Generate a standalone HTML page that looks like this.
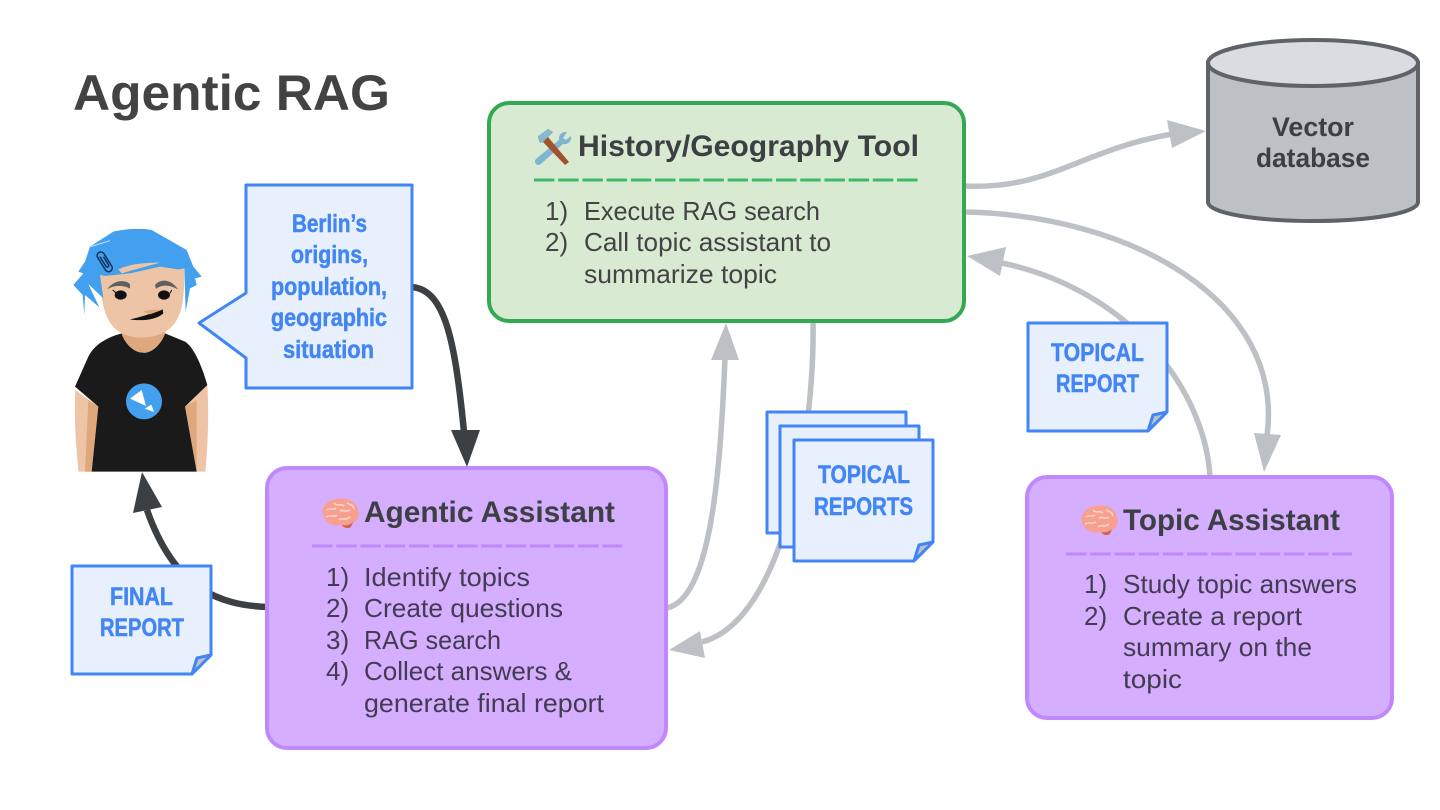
<!DOCTYPE html>
<html><head><meta charset="utf-8"><title>Agentic RAG</title>
<style>
html,body{margin:0;padding:0;background:#fff;width:1440px;height:810px;overflow:hidden}
svg{display:block}
text{font-family:"Liberation Sans",sans-serif}
.t{font-weight:700;font-size:30px;fill:#3c4043}
.b{font-size:26px;fill:#434343}
.p{font-size:26px;fill:#433c50}
.n{font-weight:700;font-size:25px;fill:#4285f4;stroke:#4285f4;stroke-width:.5px;transform:translateY(-1px)}
.g{fill:none;stroke:#bdc1c6;stroke-width:5.5}
.d{fill:none;stroke:#3c4043;stroke-width:6.5}
.note{fill:#e8f0fe;stroke:#4285f4;stroke-width:3;stroke-linejoin:round}
</style></head><body>
<svg width="1440" height="810" viewBox="0 0 1440 810" xmlns="http://www.w3.org/2000/svg">
<defs>
<g id="brain">
<path d="M3 17C0 9 8 2 17 1C27-1 36 3 38 12C40 19 37 24 32 25L30 29C27 31 23 30 21 27C13 29 5 25 3 17Z" fill="#f7a08f"/>
<path d="M7 12C10 9 13 13 16 10M14 5C17 9 21 5 24 8M6 19C10 16 13 20 17 17M20 13C24 11 26 15 30 12M19 22C22 19 26 23 30 19M27 5C30 7 33 6 34 11" fill="none" stroke="#fbd5c8" stroke-width="1.6"/>
<path d="M22 27C26 28 30 27 33 24L31 29C28 31 24 30 22 27Z" fill="#d4604f"/>
</g>
<g id="fold">
<path d="M-19 19L-14 3L0 0Z" fill="#bdc1c6" stroke="#4285f4" stroke-width="3" stroke-linejoin="round"/>
</g>
</defs>

<text x="73" y="110" font-size="50" font-weight="700" fill="#434343" textLength="317" lengthAdjust="spacingAndGlyphs">Agentic RAG</text>

<!-- connectors under shapes -->
<path class="g" d="M964 186C1050 190 1080 150 1172 134"/>
<path d="M1206 131L1167 120L1172 148Z" fill="#bdc1c6"/>
<path class="g" d="M964 212C1130 215 1285 300 1267 436"/>
<path d="M1264 472L1254 433L1281 435Z" fill="#bdc1c6"/>
<path class="g" d="M1210 477C1205 390 1130 290 1002 263"/>
<path d="M967 256L1006 247L1000 276Z" fill="#bdc1c6"/>
<path class="g" d="M667 608C710 598 720 480 725 358"/>
<path d="M726 323L711 360L739 360Z" fill="#bdc1c6"/>
<path class="g" d="M813 321C815 430 785 620 702 642"/>
<path d="M669 650L700 631L705 658Z" fill="#bdc1c6"/>
<path class="d" d="M412 287C445 290 455 340 464 432"/>
<path d="M467 467L451 430L480 430Z" fill="#3c4043"/>
<path class="d" d="M267 607C220 605 175 590 147 510"/>
<path d="M142 472L133 513L162 507Z" fill="#3c4043"/>

<!-- Green tool -->
<rect x="489" y="103" width="475" height="218" rx="20" fill="#d9ead3" stroke="#34a853" stroke-width="4"/>
<g transform="translate(534 129)">
<path d="M33 3C28 2 24 6 25 11L2 30C-1 33 3 38 7 35L29 15C34 16 38 12 37 7L32 11L29 9Z" fill="#7fb5cf"/>
<path d="M4 8L14 0L19 3L14 8L35 33L31 36L9 13L6 14Z" fill="#a0532f"/>
<path d="M4 7L14 0L19 3L13 9L9 13L6 14Z" fill="#86b8cf"/>
</g>
<text class="t" x="578" y="156" textLength="341" lengthAdjust="spacingAndGlyphs">History/Geography Tool</text>
<path d="M534 180H918" stroke="#3dba66" stroke-width="3" stroke-dasharray="20.5 3.7" fill="none"/>
<text class="b" x="545" y="220">1)</text>
<text class="b" x="545" y="251">2)</text>
<text class="b" x="584" y="220" textLength="236" lengthAdjust="spacingAndGlyphs">Execute RAG search</text>
<text class="b" x="584" y="251" textLength="247" lengthAdjust="spacingAndGlyphs">Call topic assistant to</text>
<text class="b" x="584" y="283" textLength="193" lengthAdjust="spacingAndGlyphs">summarize topic</text>

<!-- Agentic Assistant -->
<rect x="267" y="468" width="399" height="280" rx="20" fill="#d5aeff" stroke="#bf88fb" stroke-width="4"/>
<use href="#brain" x="320" y="498"/>
<text class="t" x="364" y="522" textLength="251" lengthAdjust="spacingAndGlyphs">Agentic Assistant</text>
<path d="M312 546H622" stroke="#bf88fb" stroke-width="3" stroke-dasharray="20.5 3.7" fill="none"/>
<text class="p" x="326" y="586">1)</text>
<text class="p" x="326" y="617">2)</text>
<text class="p" x="326" y="649">3)</text>
<text class="p" x="326" y="680">4)</text>
<text class="p" x="364" y="586" textLength="166" lengthAdjust="spacingAndGlyphs">Identify topics</text>
<text class="p" x="364" y="617" textLength="199" lengthAdjust="spacingAndGlyphs">Create questions</text>
<text class="p" x="364" y="649" textLength="137" lengthAdjust="spacingAndGlyphs">RAG search</text>
<text class="p" x="364" y="680" textLength="208" lengthAdjust="spacingAndGlyphs">Collect answers &amp;</text>
<text class="p" x="364" y="712" textLength="240" lengthAdjust="spacingAndGlyphs">generate final report</text>

<!-- Topic Assistant -->
<rect x="1027" y="477" width="365" height="241" rx="20" fill="#d5aeff" stroke="#bf88fb" stroke-width="4"/>
<use href="#brain" x="1079" y="505"/>
<text class="t" x="1123" y="530" textLength="217" lengthAdjust="spacingAndGlyphs">Topic Assistant</text>
<path d="M1066 554H1352" stroke="#bf88fb" stroke-width="3" stroke-dasharray="20.5 3.7" fill="none"/>
<text class="p" x="1084" y="593">1)</text>
<text class="p" x="1084" y="625">2)</text>
<text class="p" x="1123" y="593" textLength="234" lengthAdjust="spacingAndGlyphs">Study topic answers</text>
<text class="p" x="1123" y="625" textLength="179" lengthAdjust="spacingAndGlyphs">Create a report</text>
<text class="p" x="1123" y="656" textLength="189" lengthAdjust="spacingAndGlyphs">summary on the</text>
<text class="p" x="1123" y="688" textLength="59" lengthAdjust="spacingAndGlyphs">topic</text>

<!-- Cylinder -->
<path d="M1208 63V202C1208 213 1255 221 1313 221C1371 221 1418 213 1418 202V63Z" fill="#bdc1c6" stroke="#5f6368" stroke-width="4"/>
<ellipse cx="1313" cy="63" rx="105" ry="23" fill="#dadce0" stroke="#5f6368" stroke-width="4"/>
<text x="1272" y="136" font-size="27" font-weight="700" fill="#3c4043" textLength="82" lengthAdjust="spacingAndGlyphs">Vector</text>
<text x="1256" y="167" font-size="27" font-weight="700" fill="#3c4043" textLength="114" lengthAdjust="spacingAndGlyphs">database</text>

<!-- Bubble -->
<path class="note" d="M246 185H412V388H246V358L199 323L246 293Z"/>
<text class="n" x="292" y="233" textLength="75" lengthAdjust="spacingAndGlyphs">Berlin’s</text>
<text class="n" x="291" y="264" textLength="77" lengthAdjust="spacingAndGlyphs">origins,</text>
<text class="n" x="271" y="296" textLength="116" lengthAdjust="spacingAndGlyphs">population,</text>
<text class="n" x="271" y="327" textLength="116" lengthAdjust="spacingAndGlyphs">geographic</text>
<text class="n" x="283" y="359" textLength="91" lengthAdjust="spacingAndGlyphs">situation</text>

<!-- Final report -->
<path class="note" d="M72 566H211V655L192 674H72Z"/>
<use href="#fold" x="211" y="655"/>
<text class="n" x="110" y="606" textLength="63" lengthAdjust="spacingAndGlyphs">FINAL</text>
<text class="n" x="100" y="637" textLength="84" lengthAdjust="spacingAndGlyphs">REPORT</text>

<!-- Topical report -->
<path class="note" d="M1028 323H1167V412L1148 431H1028Z"/>
<use href="#fold" x="1167" y="412"/>
<text class="n" x="1051" y="362" textLength="93" lengthAdjust="spacingAndGlyphs">TOPICAL</text>
<text class="n" x="1056" y="393" textLength="83" lengthAdjust="spacingAndGlyphs">REPORT</text>

<!-- Topical reports stack -->
<rect class="note" x="767" y="412" width="139" height="121"/>
<rect class="note" x="780" y="426" width="139" height="121"/>
<path class="note" d="M794 440H933V542L914 561H794Z"/>
<use href="#fold" x="933" y="542"/>
<text class="n" x="818" y="484" textLength="92" lengthAdjust="spacingAndGlyphs">TOPICAL</text>
<text class="n" x="814" y="516" textLength="99" lengthAdjust="spacingAndGlyphs">REPORTS</text>

<!-- Character -->
<g transform="translate(50 210) scale(.33333)">
<path d="M76 540C72 620 78 720 86 785H125L145 590Z" fill="#edc4a5"/>
<path d="M115 570L145 590L125 785H105Z" fill="#dfa87c"/>
<path d="M472 525C478 620 472 720 466 785H440L405 590Z" fill="#edc4a5"/>
<path d="M440 570L405 590L440 785Z" fill="#dfa87c"/>
<path d="M215 370C160 385 130 410 115 440L75 530L145 590L125 785H440L405 590L472 525C455 465 430 410 405 395L345 370C330 410 300 430 280 428C250 428 225 400 215 370Z" fill="#1a1a1a"/>
<path d="M215 350H350L345 372C330 410 300 430 280 428C250 428 225 400 215 372Z" fill="#dfa87c"/>
<path d="M150 190C152 280 165 330 200 360C240 392 320 390 360 355C395 325 405 270 402 175L280 130Z" fill="#edc4a5"/>
<path d="M240 328C270 322 300 312 338 298L340 310C320 330 270 334 240 328Z" fill="#111"/>
<path d="M280 305C295 298 310 298 335 300L300 313Z" fill="#dfa87c"/>
<path d="M172 238C190 210 225 208 240 222V236C220 224 190 225 172 238Z" fill="#5f5f5f"/>
<path d="M315 225C335 203 365 210 384 238C360 225 335 222 318 237Z" fill="#5f5f5f"/>
<ellipse cx="212" cy="255" rx="18" ry="14" fill="#111"/>
<ellipse cx="342" cy="255" rx="18" ry="14" fill="#111"/>
<path d="M188 240L200 250M360 250L365 240" stroke="#111" stroke-width="3"/>
<path d="M120 110L190 65C230 55 280 55 305 60L410 120L430 170L455 200L435 205L440 225L420 235L407 305L403 175L385 178L330 170L240 190L165 198L150 195L160 265L115 222L148 292L105 255L103 315L98 255L70 225L100 190L85 185L105 155Z" fill="#42a0ee"/>
<path d="M205 178C240 162 280 158 330 158L250 180L215 190Z" fill="#edc4a5"/>
<path d="M122 110L180 92" stroke="#cfe6fa" stroke-width="3"/>
<g transform="rotate(-32 165 155)" fill="none" stroke="#12305a" stroke-width="4.5">
<rect x="153" y="122" width="22" height="66" rx="11"/>
<path d="M160 134V170a5 5 0 0 0 9 0V140"/>
</g>
<circle cx="282" cy="574" r="54" fill="#42a0ee"/>
<path d="M240 566L275 540L288 588Z" fill="#fff"/>
<path d="M284 596L304 584L312 606Z" fill="#fff"/>
</g>
</svg>
</body></html>
